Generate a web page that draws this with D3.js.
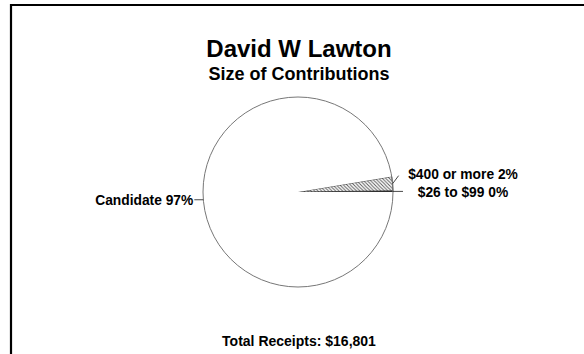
<!DOCTYPE html>
<html>
<head>
<meta charset="utf-8">
<script src="https://cdn.jsdelivr.net/npm/d3@7/dist/d3.min.js"></script>
<style>
  html, body { margin: 0; padding: 0; background: #fff; }
  svg text { font-family: "Liberation Sans", Arial, sans-serif; font-weight: bold; fill: #000; }
</style>
</head>
<body>
<svg id="chart" width="584" height="354"></svg>
<script>
// Contribution size categories, share of total receipts (%)
const categories = ["$26 to $99", "$400 or more", "Candidate"];
const shares = [0.2, 2.4, 97.4];
const fills = ["#222", "url(#hatch)", "#fff"];

const title = "David W Lawton";
const subtitle = "Size of Contributions";
const totalReceipts = 16801;

const W = 584, H = 354;
const cx = 298, cy = 192, r = 95;

const svg = d3.select("#chart");

// diagonal hatching for small slices
const defs = svg.append("defs");
const pat = defs.append("pattern")
  .attr("id", "hatch").attr("patternUnits", "userSpaceOnUse")
  .attr("width", 3.5).attr("height", 3.5);
pat.append("rect").attr("width", 3.5).attr("height", 3.5).attr("fill", "#fff");
pat.append("path")
  .attr("d", "M0,0 L3.5,3.5 M-1,2.5 L1,4.5 M2.5,-1 L4.5,1")
  .attr("stroke", "#555").attr("stroke-width", 0.9);

// frame (left and top edges)
svg.append("path")
  .attr("d", `M11,${H} L11,5 L${W},5`)
  .attr("fill", "none").attr("stroke", "#000").attr("stroke-width", 2.2);

// titles
svg.append("text").attr("x", 299).attr("y", 57)
  .attr("text-anchor", "middle").attr("font-size", 24).text(title);
svg.append("text").attr("x", 299).attr("y", 80)
  .attr("text-anchor", "middle").attr("font-size", 18).text(subtitle);

// pie runs counter-clockwise from 3 o'clock
const pie = d3.pie().sort(null).value(d => d.v)
  .startAngle(Math.PI / 2).endAngle(Math.PI / 2 - 2 * Math.PI);
const data = categories.map((c, i) => ({ c, v: shares[i], fill: fills[i] }));
const arcs = pie(data);

const arc = d3.arc().innerRadius(0).outerRadius(r);

const g = svg.append("g").attr("transform", `translate(${cx},${cy})`);

g.selectAll("path.slice").data(arcs).join("path")
  .attr("class", "slice")
  .attr("d", arc)
  .attr("fill", d => d.data.fill)
  .attr("stroke", d => d.index === 2 ? "none" : "#333")
  .attr("stroke-width", 0.8);

// outline of the pie
g.append("circle").attr("r", r)
  .attr("fill", "none").attr("stroke", "#777").attr("stroke-width", 1);

// leader lines and labels
function edgePoint(d) {
  const a = (d.startAngle + d.endAngle) / 2;
  return [r * Math.sin(a), -r * Math.cos(a)];
}
const fmt = d3.format(",");
const labelText = d => `${d.data.c} ${Math.round(d.data.v)}%`;

const leaders = [
  // $26 to $99: straight out to the right
  d => { const p = edgePoint(d); return { pts: [p, [p[0] + 10, p[1]]], tx: 165, ty: 5, anchor: "middle" }; },
  // $400 or more: short angled tick up and right
  d => { const p = edgePoint(d); return { pts: [p, [p[0] + 6, p[1] - 8]], tx: 165, ty: -13, anchor: "middle" }; },
  // Candidate: short tick out to the left
  d => { const p = edgePoint(d); return { pts: [p, [p[0] - 9, p[1]]], tx: p[0] - 10, ty: p[1] + 5, anchor: "end" }; }
];

arcs.forEach((d, i) => {
  const L = leaders[i](d);
  g.append("path")
    .attr("d", d3.line()(L.pts))
    .attr("fill", "none").attr("stroke", "#333").attr("stroke-width", 0.9);
  g.append("text")
    .attr("x", L.tx).attr("y", L.ty)
    .attr("text-anchor", L.anchor).attr("font-size", 13.8)
    .text(labelText(d));
});

// total line at the bottom
svg.append("text").attr("x", 299).attr("y", 346)
  .attr("text-anchor", "middle").attr("font-size", 14)
  .text(`Total Receipts: $${fmt(totalReceipts)}`);
</script>
</body>
</html>
